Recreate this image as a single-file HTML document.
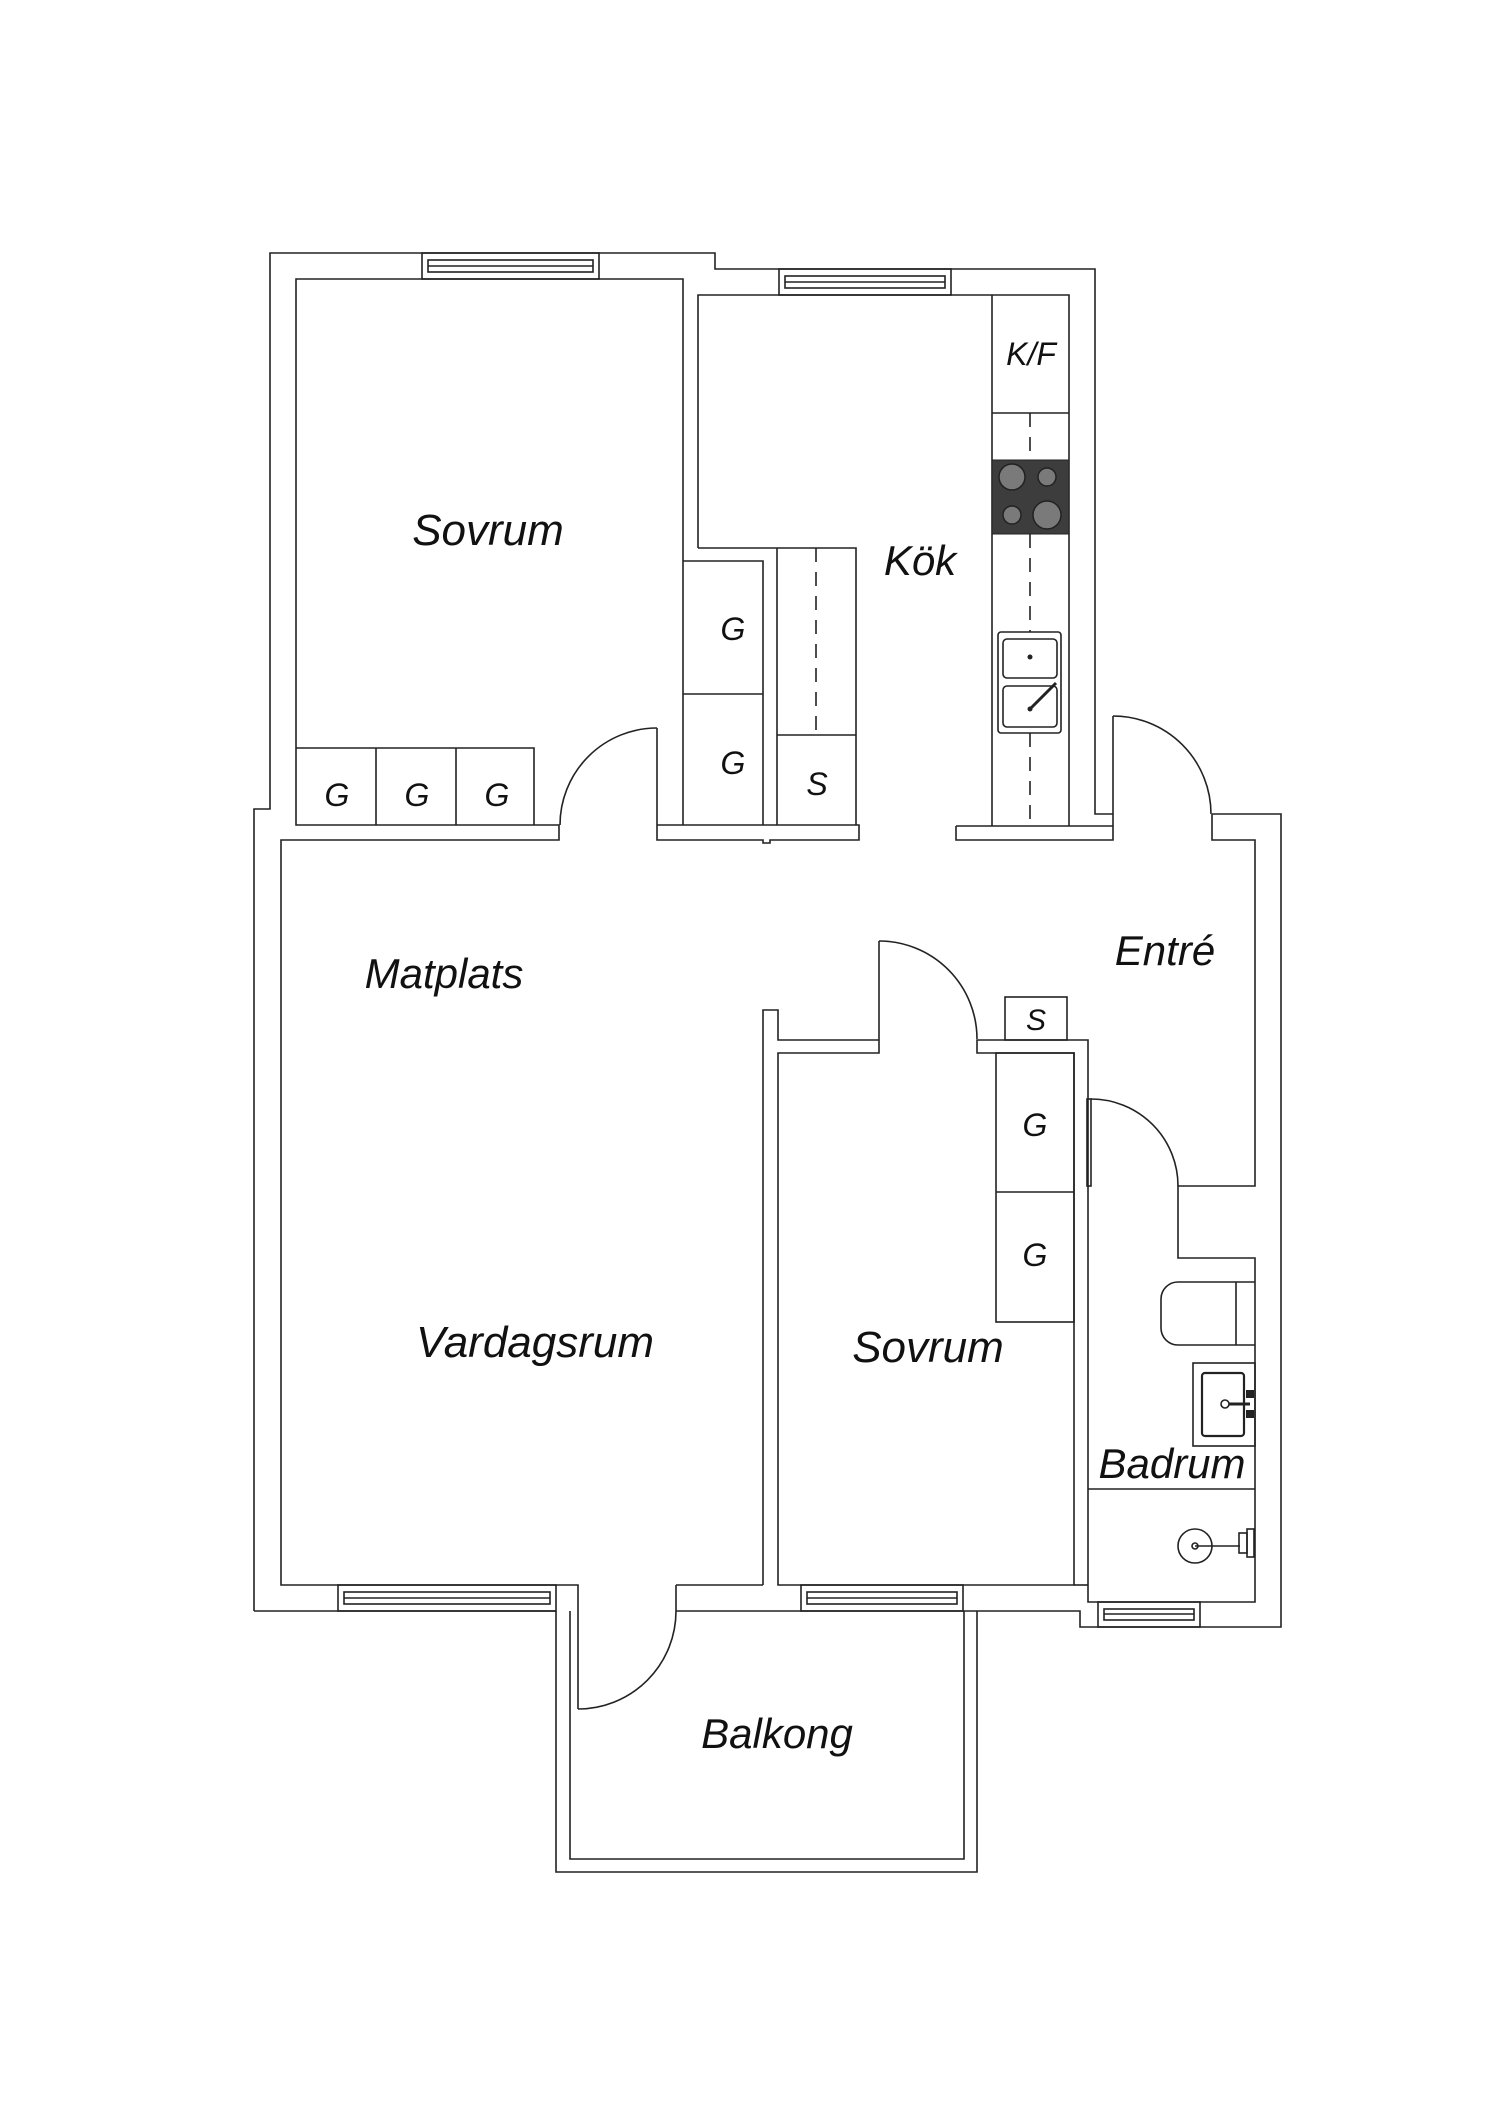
<!DOCTYPE html>
<html><head><meta charset="utf-8"><style>
html,body{margin:0;padding:0;background:#fff;}
svg{display:block}
text{font-family:"Liberation Sans",sans-serif;font-style:italic;fill:#111;text-anchor:middle}
</style></head><body>
<svg width="1500" height="2121" viewBox="0 0 1500 2121" xmlns="http://www.w3.org/2000/svg">
<g fill="none" stroke="#222" stroke-width="1.6">
<!-- outer envelope -->
<polyline points="254,1611 254,809 270,809 270,253 715,253 715,269 1095,269 1095,814 1113,814"/>
<polyline points="1212,814 1281,814 1281,1627 1080,1627 1080,1611 977,1611"/>
<line x1="254" y1="1611" x2="556" y2="1611"/>
<line x1="676" y1="1611" x2="977" y2="1611"/>
<!-- sovrum 1 -->
<polyline points="683,561 683,279 296,279 296,825 559,825 559,840 281,840 281,1585 578,1585 578,1709"/>
<!-- kitchen -->
<polyline points="698,548 698,295 1069,295 1069,826"/>
<line x1="1095" y1="814" x2="1095" y2="814"/>
<polyline points="956,826 956,840 1113,840 1113,716"/>
<line x1="956" y1="826" x2="1069" y2="826"/>
<line x1="1069" y1="826" x2="1113" y2="826"/>
<!-- middle wall -->
<polyline points="657,728 657,825 859,825 859,840 770,840 770,843 763,843 763,840 657,840 657,825"/>
<!-- wardrobes by sovrum1 -->
<polyline points="683,561 763,561 763,825"/>
<line x1="683" y1="561" x2="683" y2="825"/>
<line x1="683" y1="694" x2="763" y2="694"/>
<polyline points="698,548 856,548 856,825"/>
<line x1="777" y1="548" x2="777" y2="825"/>
<line x1="777" y1="735" x2="856" y2="735"/>
<line x1="816" y1="548" x2="816" y2="735" stroke-dasharray="14,10"/>
<!-- GGG -->
<polyline points="296,748 534,748 534,825"/>
<line x1="376" y1="748" x2="376" y2="825"/>
<line x1="456" y1="748" x2="456" y2="825"/>
<!-- kitchen counter -->
<line x1="992" y1="295" x2="992" y2="826"/>
<line x1="992" y1="413" x2="1069" y2="413"/>
<line x1="1030" y1="413" x2="1030" y2="460" stroke-dasharray="14,10"/>
<line x1="1030" y1="534" x2="1030" y2="632" stroke-dasharray="14,10"/>
<line x1="1030" y1="733" x2="1030" y2="826" stroke-dasharray="14,10"/>
<!-- entry -->
<polyline points="1212,814 1212,840 1255,840 1255,1186 1178,1186 1178,1258 1255,1258 1255,1602 1088,1602 1088,1040 977,1040 977,1053 1074,1053 1074,1585 778,1585 778,1053 879,1053 879,941"/>
<polyline points="879,1040 778,1040 778,1010 763,1010 763,1585"/>
<line x1="676" y1="1611" x2="676" y2="1585"/><line x1="676" y1="1585" x2="763" y2="1585"/>
<line x1="1074" y1="1585" x2="1088" y2="1585"/>
<!-- sovrum2 wardrobe & S -->
<rect x="996" y="1053" width="78" height="269"/>
<line x1="996" y1="1192" x2="1074" y2="1192"/>
<rect x="1005" y="997" width="62" height="43"/>
<!-- doors -->
<path d="M657,728 A97,97 0 0 0 560,825"/>
<path d="M1113,716 A98,98 0 0 1 1211,814"/>
<path d="M879,941 A98,98 0 0 1 977,1039"/>
<rect x="1087" y="1099" width="4" height="87"/>
<path d="M1091,1099 A87,87 0 0 1 1178,1186"/>
<path d="M578,1709 A98,98 0 0 0 676,1611"/>
<!-- balcony -->
<polyline points="556,1611 556,1872 977,1872 977,1611"/>
<polyline points="570,1611 570,1859 964,1859 964,1611"/>
<!-- windows -->
<rect x="422" y="253" width="177" height="26"/><rect x="428" y="260" width="165" height="12"/><line x1="428" y1="266" x2="593" y2="266"/>
<rect x="779" y="269" width="172" height="26"/><rect x="785" y="276" width="160" height="12"/><line x1="785" y1="282" x2="945" y2="282"/>
<rect x="338" y="1585" width="218" height="26"/><rect x="344" y="1592" width="206" height="12"/><line x1="344" y1="1598" x2="550" y2="1598"/>
<rect x="801" y="1585" width="162" height="26"/><rect x="807" y="1592" width="150" height="12"/><line x1="807" y1="1598" x2="957" y2="1598"/>
<rect x="1098" y="1602" width="102" height="25"/><rect x="1104" y="1609" width="90" height="11"/><line x1="1104" y1="1614" x2="1194" y2="1614"/>
<!-- kitchen sink -->
<rect x="998" y="632" width="63" height="101" rx="3"/>
<rect x="1003" y="639" width="54" height="39" rx="4"/>
<rect x="1003" y="686" width="54" height="41" rx="4"/>
<line x1="1030" y1="709" x2="1056" y2="683" stroke-width="3"/>
<!-- bathroom -->
<path d="M1255,1282 L1178,1282 A17,17 0 0 0 1161,1299 L1161,1328 A17,17 0 0 0 1178,1345 L1255,1345"/>
<line x1="1236" y1="1282" x2="1236" y2="1345"/>
<rect x="1193" y="1363" width="62" height="83"/>
<rect x="1202" y="1373" width="42" height="63" rx="3" stroke-width="2.2"/>
<circle cx="1225" cy="1404" r="4"/><line x1="1229" y1="1404" x2="1250" y2="1404" stroke-width="3"/>
<line x1="1088" y1="1489" x2="1255" y2="1489"/>
<circle cx="1195" cy="1546" r="17"/><circle cx="1195" cy="1546" r="3"/>
<line x1="1195" y1="1546" x2="1240" y2="1546"/>
<rect x="1239" y="1533" width="8" height="20"/><rect x="1247" y="1529" width="7" height="28"/>
</g>
<g fill="#222">
<circle cx="1030" cy="657" r="2.5"/><circle cx="1030" cy="709" r="2.5"/>
<rect x="1246" y="1390" width="8" height="8"/><rect x="1246" y="1410" width="8" height="8"/>
</g>
<!-- hob -->
<rect x="992" y="460" width="77" height="74" fill="#3d3d3d" stroke="#222"/>
<g fill="#7a7a7a" stroke="#222" stroke-width="1.5">
<circle cx="1012" cy="477" r="13"/><circle cx="1047" cy="477" r="9"/>
<circle cx="1012" cy="515" r="9"/><circle cx="1047" cy="515" r="14"/>
</g>
<!-- labels -->
<text x="488" y="545" font-size="44">Sovrum</text>
<text x="920" y="575" font-size="42">Kök</text>
<text x="1031" y="365" font-size="32">K/F</text>
<text x="733" y="640" font-size="32">G</text>
<text x="733" y="774" font-size="32">G</text>
<text x="817" y="795" font-size="32">S</text>
<text x="337" y="806" font-size="32">G</text>
<text x="417" y="806" font-size="32">G</text>
<text x="497" y="806" font-size="32">G</text>
<text x="444" y="988" font-size="42">Matplats</text>
<text x="1165" y="965" font-size="42">Entré</text>
<text x="1036" y="1030" font-size="30">S</text>
<text x="1035" y="1136" font-size="32">G</text>
<text x="1035" y="1266" font-size="32">G</text>
<text x="535" y="1357" font-size="44">Vardagsrum</text>
<text x="928" y="1362" font-size="44">Sovrum</text>
<text x="1172" y="1478" font-size="42">Badrum</text>
<text x="777" y="1748" font-size="42">Balkong</text>
</svg>
</body></html>
